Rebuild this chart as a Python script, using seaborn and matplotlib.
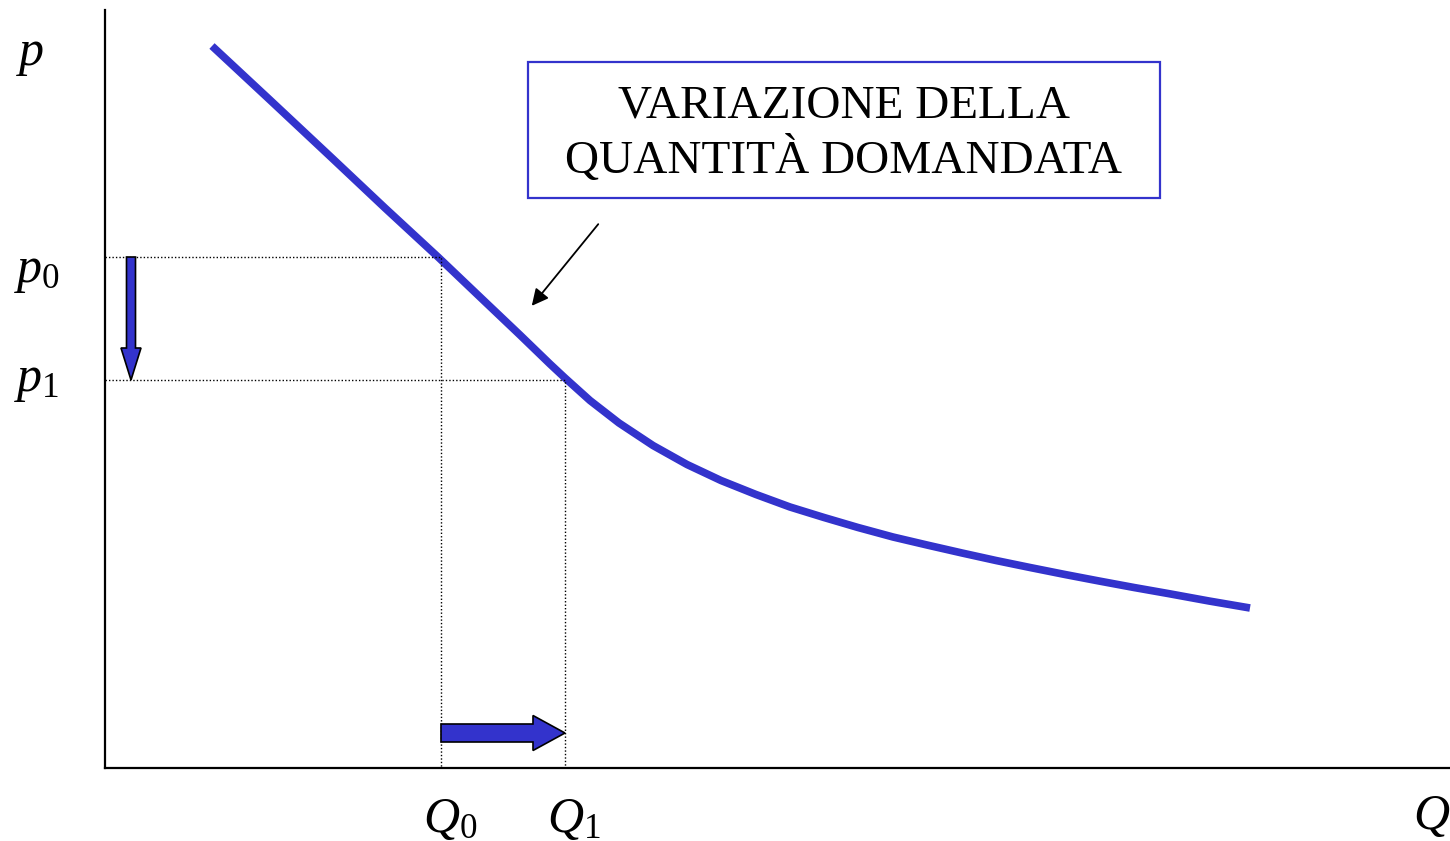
import matplotlib
matplotlib.use("Agg")
import matplotlib.pyplot as plt
import seaborn as sns
import pandas as pd
from matplotlib.patches import Rectangle

# demand curve (origin at the axes corner, units ~ pixels)
quantity = [107, 165, 228, 280, 333, 375, 415, 445, 460, 485, 514, 548,
            582, 616, 651, 685, 719, 753, 788, 822, 857, 891, 925, 960,
            994, 1029, 1063, 1104, 1145]
price = [722, 668, 609, 560, 511, 471, 433, 404, 390, 367.5, 345, 322.5,
         303.5, 287.5, 273.5, 261, 250.5, 240.5, 231, 223, 215, 207.5,
         200.5, 193.5, 187, 180.5, 174.5, 167, 160]

q0, q1 = 336, 460
p0, p1 = 511, 388
box_text = "VARIAZIONE DELLA\nQUANTITÀ DOMANDATA"

blue = "#3333cc"
serif = "Liberation Serif"

sns.set_theme(style="white")
plt.rcParams["mathtext.fontset"] = "custom"
plt.rcParams["mathtext.rm"] = serif
plt.rcParams["mathtext.it"] = serif + ":italic"

fig = plt.figure(figsize=(14.5, 8.41), dpi=100)
ax = fig.add_axes([0, 0, 1, 1])
ax.set_xlim(-105, 1345)
ax.set_ylim(-73, 768)

df = pd.DataFrame({"Q": quantity, "p": price})
sns.lineplot(data=df, x="Q", y="p", sort=False, color=blue, lw=5.5, ax=ax,
             solid_capstyle="butt", solid_joinstyle="round")

# axes
for side in ["top", "right"]:
    ax.spines[side].set_visible(False)
ax.spines["left"].set_position(("data", 0))
ax.spines["bottom"].set_position(("data", 0))
ax.spines["left"].set_bounds(0, 758)
ax.spines["bottom"].set_bounds(0, 1345)
for side in ["left", "bottom"]:
    ax.spines[side].set_color("black")
    ax.spines[side].set_linewidth(1.6)
ax.set_xticks([])
ax.set_yticks([])
ax.set_xlabel("")
ax.set_ylabel("")

# dotted guides
dot = dict(color="black", lw=1.0, ls=(0, (1, 1.5)))
ax.plot([0, q0, q0], [p0, p0, 0], **dot)
ax.plot([0, q1, q1], [p1, p1, 0], **dot)

# shift arrows
ax.arrow(26, p0, 0, p1 - p0, width=9, head_width=20, head_length=32,
         length_includes_head=True, fc=blue, ec="black", lw=1.2, zorder=3)
ax.arrow(q0, 35, q1 - q0, 0, width=18, head_width=35, head_length=32,
         length_includes_head=True, fc=blue, ec="black", lw=1.2, zorder=3)

# labels
lab = dict(fontsize=36, color="black", ha="center", va="center")
ax.text(-75, 714, r"$p$", **lab)
ax.text(-68, 497, r"$p_0$", **lab)
ax.text(-68, 388, r"$p_1$", **lab)
ax.text(q0 + 9, -50, r"$Q_0$", **lab)
ax.text(q1 + 9, -50, r"$Q_1$", **lab)
ax.text(1327, -47, r"$Q$", **lab)

# text box
ax.add_patch(Rectangle((423, 570), 632, 136, fill=False, ec=blue, lw=1.6))
ax.text(739, 634, box_text, fontsize=34, family=serif, ha="center",
        va="center", linespacing=1.25, color="black")
ax.annotate("", xy=(425, 460), xytext=(495, 546),
            arrowprops=dict(arrowstyle="-|>", color="black", lw=1.3,
                            mutation_scale=25))

fig.savefig("out.png", dpi=100, facecolor="white")
